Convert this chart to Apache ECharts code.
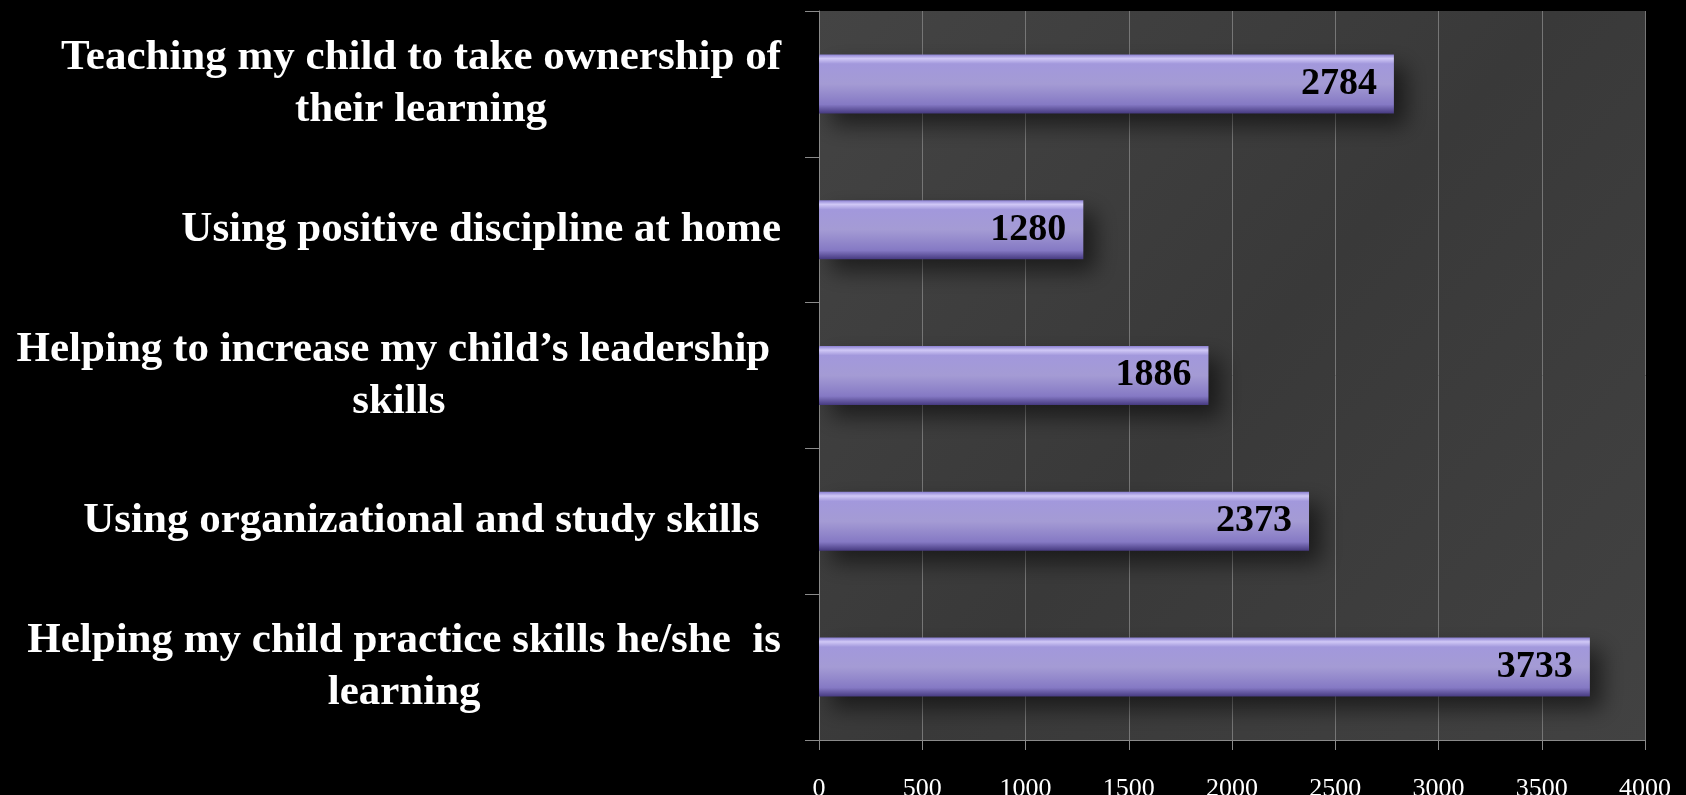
<!DOCTYPE html>
<html>
<head>
<meta charset="utf-8">
<script src="https://cdn.jsdelivr.net/npm/echarts@6/dist/echarts.min.js"></script>
<style>
  html, body { margin: 0; padding: 0; background: #000; }
  #main { width: 1686px; height: 795px; }
</style>
</head>
<body>
<div id="main"></div>
<script>
// top to bottom, as in the picture
var categories = [
    'Teaching my child to take ownership of\ntheir learning',
    'Using positive discipline at home',
    'Helping to increase my child\u2019s leadership \nskills',
    'Using organizational and study skills  ',
    'Helping my child practice skills he/she  is\nlearning'
];
var values = [2784, 1280, 1886, 2373, 3733];
var xTicks = [0, 500, 1000, 1500, 2000, 2500, 3000, 3500, 4000];

var serif = '"Liberation Serif", "DejaVu Serif", serif';

function draw() {
    var myChart = echarts.init(document.getElementById('main'), null, {
        width: 1686,
        height: 795
    });

    var barFill = new echarts.graphic.LinearGradient(0, 0, 0, 1, [
        { offset: 0, color: '#8b80d2' },
        { offset: 0.07, color: '#d0c8f6' },
        { offset: 0.16, color: '#a298dc' },
        { offset: 0.5, color: '#a49bd4' },
        { offset: 0.85, color: '#8579c4' },
        { offset: 1, color: '#463a80' }
    ]);

    var option = {
        backgroundColor: '#000',
        animation: false,
        grid: {
            left: 819,
            right: 41,
            top: 11,
            bottom: 55,
            outerBoundsMode: 'none',
            show: true,
            borderWidth: 0,
            backgroundColor: new echarts.graphic.LinearGradient(0, 0, 1, 1, [
                { offset: 0, color: '#444444' },
                { offset: 0.5, color: '#393939' },
                { offset: 1, color: '#424242' }
            ])
        },
        xAxis: {
            type: 'value',
            min: 0,
            max: 4000,
            interval: 500,
            axisLine: { show: true, lineStyle: { color: '#8a8a8a', width: 1 } },
            axisTick: { show: true, length: 10, lineStyle: { color: '#8a8a8a' } },
            splitLine: { show: true, lineStyle: { color: '#767676', width: 1 } },
            axisLabel: {
                color: '#fff',
                fontFamily: serif,
                fontSize: 26,
                margin: 36,
                formatter: function (v) { return xTicks.indexOf(v) >= 0 ? String(v) : ''; }
            }
        },
        yAxis: {
            type: 'category',
            inverse: true,
            data: categories,
            axisLine: { show: true, lineStyle: { color: '#8a8a8a', width: 1 } },
            axisTick: { show: true, length: 14, lineStyle: { color: '#8a8a8a' } },
            axisLabel: {
                margin: 38,
                align: 'right',
                formatter: function (v) {
                    return v.split('\n').map(function (s) { return '{c|' + s + '}'; }).join('\n');
                },
                rich: {
                    c: {
                        align: 'center',
                        color: '#fff',
                        fontFamily: serif,
                        fontWeight: 'bold',
                        fontSize: 43,
                        lineHeight: 52
                    }
                }
            }
        },
        series: [
            {
                type: 'bar',
                data: values,
                barWidth: 59,
                itemStyle: {
                    color: barFill,
                    shadowColor: 'rgba(0,0,0,0.55)',
                    shadowBlur: 22,
                    shadowOffsetX: 12,
                    shadowOffsetY: 12
                },
                label: {
                    show: true,
                    position: 'insideRight',
                    distance: 17,
                    color: '#000',
                    fontFamily: serif,
                    fontWeight: 'bold',
                    fontSize: 38
                }
            }
        ]
    };
    myChart.setOption(option);
}

draw();
</script>
</body>
</html>
